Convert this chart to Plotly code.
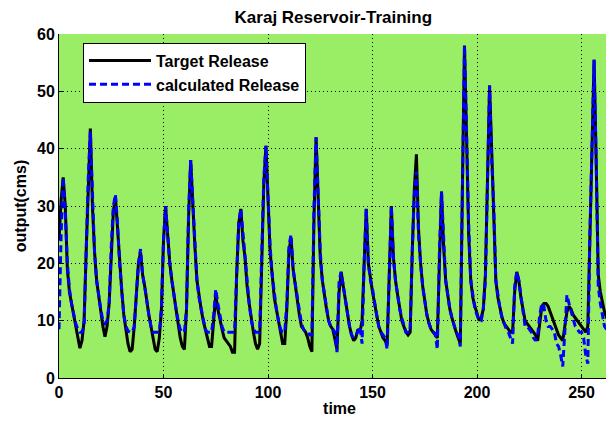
import plotly.graph_objects as go

# Target release (cms), monthly steps
target = [
    24, 31, 35, 30, 19, 15, 13, 11, 9, 7, 5.2, 6.5,
    10, 22, 34, 43.5, 30, 22, 17, 14, 11.5, 9, 7.2, 9,
    13, 22, 29, 31.6, 26, 20, 15.3, 11, 8.7, 6, 4.6, 5,
    9, 15, 20, 22, 18, 16, 13, 11, 9, 7, 5, 4.6,
    7, 12, 24, 30, 24, 20, 17, 14, 12, 9.5, 7, 5.5,
    5, 12, 28, 38, 30, 23, 17, 14, 12, 10, 8.5, 7,
    5.5, 5.5, 10, 14.5, 12, 10, 8.5, 7, 6.5, 6, 5.5, 4.5,
    4.5, 18, 27, 29.5, 24, 21, 16, 13, 10, 8, 6, 5,
    6, 22, 34, 40.5, 30, 22, 18, 14, 12, 10, 7.5, 6,
    6, 12, 22, 24.5, 19, 16, 14, 11, 9, 8.5, 8, 7,
    5.5, 4.6, 28, 42, 32, 21, 17, 14, 12, 10, 9, 8.5,
    7, 5, 15, 18.5, 16, 13.5, 11, 9, 7.5, 6.5, 7, 8.5,
    8, 10, 20, 29.5, 20, 17, 15, 13, 11, 9, 8, 7,
    6.5, 6, 18, 30, 21, 17, 14.5, 12, 10, 9, 8, 7.5,
    8, 22, 33, 39, 26, 20, 16, 13.5, 11, 9.6, 8.5, 8,
    7.5, 7, 20, 32.5, 23, 17, 14.5, 12, 10.5, 9, 8, 7,
    6, 33, 58, 42, 25, 17, 14, 12.5, 11, 10, 10.5, 12,
    18, 33, 51, 40, 28, 17, 14, 12, 10.5, 9.5, 9, 8.5,
    8, 8, 15, 18.5, 17, 14, 12, 10, 9.5, 9, 8.5, 8,
    7.5, 6.5, 10, 12.5, 13, 13, 12.5, 11.5, 10.5, 9.5, 8.5, 7.5,
    7, 6.5, 9, 11.5, 12.5, 12, 11, 10.5, 10, 9.5, 9, 8.5,
    8, 9, 25, 38, 55.5, 38, 18, 15, 13, 11.5, 10.5, 10, 9.5,
    9.5, 9.2,
]

# Calculated release (cms)
calculated = [
    8.5, 25, 35, 29, 20, 15.5, 13, 11, 9.5, 8.5, 8, 8,
    9, 22, 35, 43, 31, 22, 17, 14, 12, 10, 9.5, 10,
    13, 23, 30, 32, 27, 20, 15, 11, 9, 8.2, 8, 8,
    9, 15, 20, 22.5, 18, 16, 13, 11, 9, 8, 8, 8,
    8, 12, 24, 30, 24, 20, 17, 14, 12, 10, 8.5, 8,
    8, 12, 29, 38, 31, 23, 17, 14, 12, 10, 8.5, 8,
    8, 8, 11, 15.5, 13, 11, 9, 8, 8, 8, 8, 8,
    8, 18, 27, 29.5, 25, 21, 16, 13, 10, 8.5, 8, 8,
    8, 22, 35, 40.5, 31, 23, 18, 14.5, 12, 10, 8.5, 8,
    8, 13, 23, 25, 19, 16.5, 14, 11.5, 9.5, 8.5, 8, 8,
    7.5, 7.5, 30, 42, 31, 22, 17, 14.5, 12.5, 10, 9, 8.5,
    8, 4.5, 17, 18.5, 16, 13.5, 11, 9, 7.5, 7, 7.5, 8,
    9, 6, 20, 29.5, 20, 17, 15.5, 13, 11, 9, 8, 7.5,
    7, 5, 19, 30, 21, 17, 14.5, 12, 10.5, 9, 8, 8,
    8, 22, 32, 36, 25, 20, 16, 13.5, 11, 9.5, 8.5, 8,
    7.8, 5, 22, 32.5, 24, 17, 14.5, 12, 10.5, 9, 8, 7.5,
    5.5, 33, 58, 43, 27, 17, 14, 12, 11, 10, 10, 12,
    17, 33, 51, 38, 30, 17, 14, 12, 10.5, 9.5, 8.5, 8,
    7, 6, 16, 18.5, 17, 14, 11, 9, 9, 8.5, 8, 7,
    6.5, 7.5, 11, 13, 12.5, 10, 9, 9, 8.5, 8, 6, 5.5,
    4, 2, 8, 14.5, 13, 11.5, 10, 9, 8.5, 8, 8, 7,
    4, 2.5, 25, 38, 55.5, 38, 16, 13, 11, 9, 8.5, 8, 8.5,
    8.7, 9,
]

time = list(range(len(target)))

x_ticks = [0, 50, 100, 150, 200, 250]
y_ticks = [0, 10, 20, 30, 40, 50, 60]

FONT = "Arial, Liberation Sans, sans-serif"

fig = go.Figure()
fig.add_trace(go.Scatter(
    x=time, y=target, mode="lines", name="<b>Target Release</b>",
    line=dict(color="black", width=3),
))
fig.add_trace(go.Scatter(
    x=time, y=calculated, mode="lines", name="<b>calculated Release</b>",
    line=dict(color="#0000ff", width=3, dash="7px,4px"),
))

fig.update_layout(
    width=614, height=423,
    margin=dict(l=51, r=2, t=26, b=53, autoexpand=False),
    paper_bgcolor="white",
    plot_bgcolor="#99ee66",
    font=dict(family=FONT, color="black", size=16),
    title=dict(text="<b>Karaj Reservoir-Training</b>", x=0.489, xref="paper",
               y=1 - 9 / 423, yref="container", yanchor="middle",
               font=dict(size=17)),
    showlegend=True,
    legend=dict(
        x=0.0428, y=0.975, xanchor="left", yanchor="top",
        bgcolor="white", bordercolor="black", borderwidth=1,
        font=dict(size=16), itemwidth=62, tracegroupgap=0,
    ),
    xaxis=dict(
        range=[0, 268.4], tickvals=x_ticks, ticktext=[f"<b>{v}</b>" for v in x_ticks],
        showgrid=True, gridcolor="black", griddash="1px,3px", gridwidth=1,
        zeroline=False, showline=True, linecolor="black", linewidth=1,
        ticks="inside", ticklen=4, tickcolor="black", automargin=False,
        title=dict(text="<b>time</b>", standoff=2, font=dict(size=16)),
        tickfont=dict(size=16),
    ),
    yaxis=dict(
        range=[0, 60], tickvals=y_ticks, ticktext=[f"<b>{v}</b>" for v in y_ticks],
        showgrid=True, gridcolor="black", griddash="1px,3px", gridwidth=1,
        zeroline=False, showline=True, linecolor="black", linewidth=1,
        ticks="inside", ticklen=4, tickcolor="black", automargin=False,
        title=dict(text="<b>output(cms)</b>", standoff=6, font=dict(size=16)),
        tickfont=dict(size=16),
    ),
)

fig.write_html("out.html")
